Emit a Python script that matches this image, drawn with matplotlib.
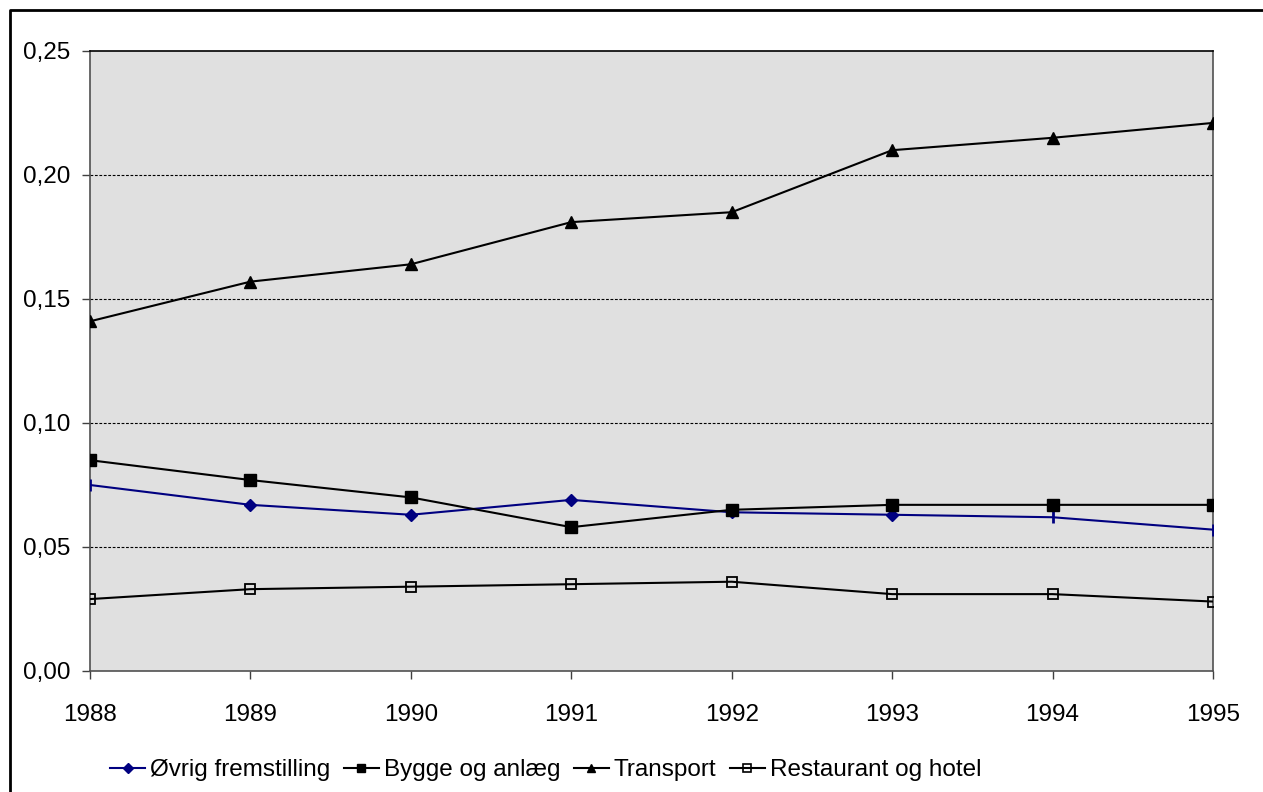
import matplotlib.pyplot as plt
from matplotlib.lines import Line2D
from matplotlib.ticker import FuncFormatter

plt.rcParams['font.family'] = ['Liberation Sans', 'DejaVu Sans']

years = [1988, 1989, 1990, 1991, 1992, 1993, 1994, 1995]
ovrig = [0.075, 0.067, 0.063, 0.069, 0.064, 0.063, 0.062, 0.057]
bygge = [0.085, 0.077, 0.070, 0.058, 0.065, 0.067, 0.067, 0.067]
transport = [0.141, 0.157, 0.164, 0.181, 0.185, 0.210, 0.215, 0.221]
restaurant = [0.029, 0.033, 0.034, 0.035, 0.036, 0.031, 0.031, 0.028]
labels = ['Øvrig fremstilling', 'Bygge og anlæg', 'Transport', 'Restaurant og hotel']

fig = plt.figure(figsize=(12.63, 7.92), dpi=100)
ax = fig.add_axes([90/1263, 121/792, 1123/1263, 620/792])
ax.set_facecolor('#e0e0e0')

# outer frame (left and top edges visible)
fig.add_artist(Line2D([10/1263, 10/1263, 1], [0, 1-10/792, 1-10/792],
                      transform=fig.transFigure, color='black', lw=2))

ax.plot(years, ovrig, color='#000080', lw=1.5, marker='D', ms=6, markevery=[1, 2, 3, 4, 5], zorder=3)
ax.plot(years, ovrig, color='#000080', ls='none', marker='|', ms=9, mew=2, markevery=[0, 6, 7], zorder=3)
ax.plot(years, bygge, color='black', lw=1.5, marker='s', ms=8, zorder=4)
ax.plot(years, transport, color='black', lw=1.5, marker='^', ms=8, zorder=4)
ax.plot(years, restaurant, color='black', lw=1.5, marker='s', ms=7, mfc='none', mew=1.3, zorder=4)

ax.set_xlim(1988, 1995)
ax.set_ylim(0, 0.25)
ax.set_xticks(years)
ax.set_yticks([0, 0.05, 0.10, 0.15, 0.20, 0.25])
ax.yaxis.set_major_formatter(FuncFormatter(lambda v, p: f'{v:.2f}'.replace('.', ',')))
for y in [0.05, 0.10, 0.15, 0.20]:
    ax.axhline(y, color='black', lw=0.8, ls=(0, (2.5, 1.5)), zorder=1)

ax.tick_params(labelsize=17.5, length=6, width=1, color='#404040')
ax.tick_params(axis='y', pad=8)
ax.tick_params(axis='x', pad=18)
ax.spines['top'].set_color('black')
ax.spines['top'].set_linewidth(1.2)
for s in ['left', 'right', 'bottom']:
    ax.spines[s].set_color('#505050')
    ax.spines[s].set_linewidth(1.2)

handles = [
    Line2D([], [], color='#000080', lw=1.5, marker='D', ms=5),
    Line2D([], [], color='black', lw=1.5, marker='s', ms=6),
    Line2D([], [], color='black', lw=1.5, marker='^', ms=6),
    Line2D([], [], color='black', lw=1.5, marker='s', ms=6, mfc='none', mew=1.2),
]
fig.legend(handles, labels, loc='center left', bbox_to_anchor=(110/1263, 22/792), ncol=4,
           frameon=False, fontsize=17.5, handlelength=1.45, handletextpad=0.2,
           columnspacing=0.55, borderaxespad=0, borderpad=0)

fig.savefig('out.png', dpi=100)
